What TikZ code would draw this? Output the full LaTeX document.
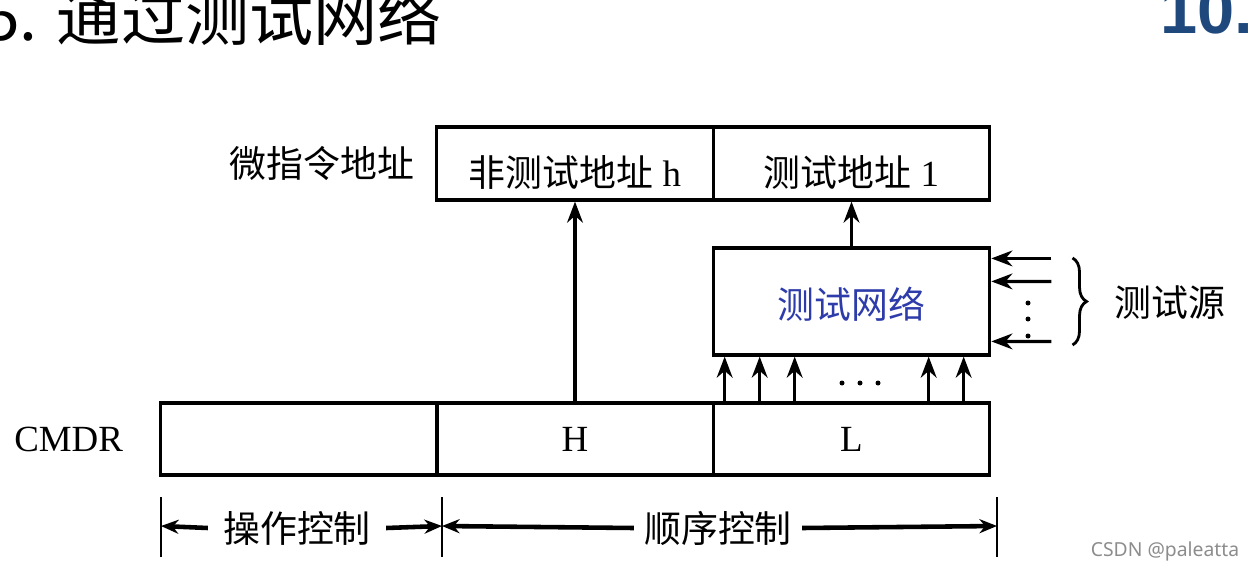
\documentclass[tikz,border=0pt]{standalone}
\usepackage{fontspec}
\setmainfont{Liberation Serif}
\newfontfamily\cjk{Noto Sans CJK SC}
\newfontfamily\wmfont{Noto Sans}
\newfontfamily\pagefont{Liberation Sans}
\usetikzlibrary{arrows.meta,positioning,decorations.pathreplacing}
\definecolor{netblue}{RGB}{45,60,170}
\definecolor{pageblue}{RGB}{31,73,125}
\begin{document}
\begin{tikzpicture}[>={Stealth[length=12pt,width=9pt]},
    cell/.style={draw, line width=1.8pt, minimum width=5.53cm, minimum height=1.46cm, inner sep=0pt, font=\fontsize{21}{25}\selectfont},
    sig/.style={line width=1.8pt, ->},
    dim/.style={line width=2.6pt, -{Stealth[length=10pt,width=8pt]}},
    lbl/.style={font=\fontsize{21}{25}\selectfont}]
        \useasboundingbox (0,0) rectangle (25.08,11.42);
        % title and page number
        \node[anchor=base west, inner sep=0pt, font=\fontsize{36.5}{42}\selectfont\cjk] (title) at (-0.32,10.6) {5. 通过测试网络};
        \node[anchor=base west, inner sep=0pt, font=\fontsize{38}{44}\selectfont\pagefont\bfseries, text=pageblue] (page) at (23.2,10.74) {10.};

        % microinstruction address
        \node[cell] (nh) at (11.5,8.15)  {\raisebox{-0.17cm}[\height][\depth]{{\cjk 非测试地址} h}};
        \node[cell] (tl) at (17.03,8.15) {\raisebox{-0.17cm}[\height][\depth]{{\cjk 测试地址} 1}};
        \node[lbl, left=0.3cm of nh] (addr) {\cjk 微指令地址};

        % test network
        \node[cell, minimum height=2.14cm, text=netblue] (tn) at (17.03,5.39) {\raisebox{-0.05cm}[\height][\depth]{\cjk 测试网络}};
        \draw[sig] (tn.north) -- (tl.south);

        % test sources
        \foreach \d in {0.24,0.7,1.9}
            \draw[sig] ([shift={(1.2,-\d)}]tn.north east) -- ([yshift=-\d cm]tn.north east);
        \foreach \y in {5.36,5.04,4.70}
            \fill (20.56,\y) circle (0.05);
        \draw[line width=1.6pt, decorate, decoration={brace, amplitude=8pt}] (21.45,6.26) -- (21.45,4.52);
        \node[lbl] (src) at (23.4,5.36) {\cjk 测试源};

        % CMDR
        \node[cell, minimum height=1.44cm] (op) at (5.98,2.64) {};
        \node[cell, minimum height=1.44cm] (hi) at (11.5,2.64) {H};
        \node[cell, minimum height=1.44cm] (lo) at (17.03,2.64) {L};
        \node[lbl, left=0.6cm of op] (cmdr) {CMDR};
        \draw[sig] (hi.north) -- (nh.south);
        \foreach \d in {0.26,0.96,1.66,4.34,5.04}
            \draw[sig] ([xshift=\d cm]lo.north west) -- ([xshift=\d cm]tn.south west);
        \foreach \x in {16.84,17.2,17.56}
            \fill (\x,3.76) circle (0.05);

        % field widths
        \draw[line width=1.2pt] (3.22,0.28) -- (3.22,1.48);
        \draw[line width=1.2pt] (8.84,0.28) -- (8.84,1.48);
        \draw[line width=1.2pt] (19.94,0.28) -- (19.94,1.48);
        \coordinate (t1) at (3.22,0.9);
        \coordinate (t2) at (8.84,0.9);
        \coordinate (t3) at (19.94,0.9);
        \node[lbl, inner xsep=0.3cm] (opc) at (5.94,0.86) {\cjk 操作控制};
        \node[lbl, inner xsep=0.2cm] (seqc) at (14.36,0.86) {\cjk 顺序控制};
        \draw[dim] (opc.west) -- (t1);
        \draw[dim] (opc.east) -- (t2);
        \draw[dim] (seqc.west) -- (t2);
        \draw[dim] (seqc.east) -- (t3);

        % watermark
        \node[font=\wmfont\fontsize{11}{13}\selectfont, text=black!45] (wm) at (23.3,0.4) {CSDN @paleatta};
    \end{tikzpicture}
\end{document}
